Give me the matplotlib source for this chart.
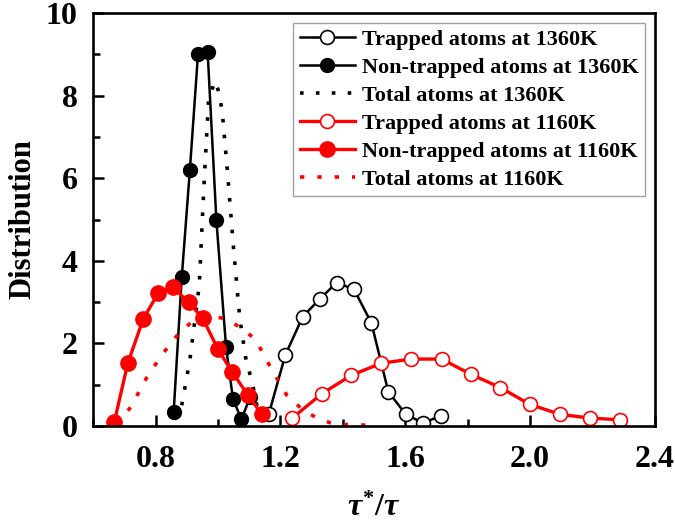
import matplotlib
matplotlib.use("Agg")
import matplotlib.pyplot as plt
from matplotlib.ticker import MultipleLocator

plt.rcParams['font.family'] = ['Liberation Serif', 'DejaVu Serif']
plt.rcParams['font.weight'] = 'bold'
plt.rcParams['mathtext.fontset'] = 'custom'
plt.rcParams['mathtext.it'] = 'Liberation Serif:italic:bold'
plt.rcParams['mathtext.rm'] = 'Liberation Serif:bold'

# Trapped atoms at 1360K
x_trap_1360 = [1.163, 1.216, 1.272, 1.326, 1.380, 1.436, 1.492, 1.546, 1.602, 1.658, 1.715]
y_trap_1360 = [0.29, 1.72, 2.65, 3.07, 3.47, 3.31, 2.49, 0.83, 0.28, 0.07, 0.25]

# Non-trapped atoms at 1360K
x_non_1360 = [0.858, 0.884, 0.910, 0.936, 0.967, 0.995, 1.026, 1.048, 1.075, 1.104]
y_non_1360 = [0.33, 3.60, 6.20, 9.00, 9.05, 4.98, 1.91, 0.66, 0.16, 0.71]

# Total atoms at 1360K
x_tot_1360 = [0.884, 0.910, 0.940, 0.955, 0.970, 0.990, 1.005, 1.015, 1.030, 1.050, 1.070, 1.090, 1.110, 1.130]
y_tot_1360 = [0.50, 1.60, 3.40, 5.80, 7.90, 8.35, 8.05, 7.50, 6.20, 4.30, 2.60, 1.60, 1.05, 0.30]

# Trapped atoms at 1160K
x_trap_1160 = [1.238, 1.333, 1.428, 1.524, 1.620, 1.717, 1.811, 1.905, 2.000, 2.097, 2.193, 2.288]
y_trap_1160 = [0.19, 0.78, 1.23, 1.52, 1.62, 1.62, 1.25, 0.93, 0.52, 0.28, 0.19, 0.15]

# Non-trapped atoms at 1160K
x_non_1160 = [0.668, 0.711, 0.761, 0.808, 0.856, 0.906, 0.951, 1.000, 1.045, 1.096, 1.141]
y_non_1160 = [0.10, 1.52, 2.60, 3.21, 3.36, 2.99, 2.61, 1.86, 1.31, 0.75, 0.28]

# Total atoms at 1160K
x_tot_1160 = [0.675, 0.720, 0.770, 0.820, 0.870, 0.920, 0.970, 1.020, 1.070, 1.120, 1.170, 1.220, 1.270, 1.320, 1.370, 1.420, 1.480]
y_tot_1160 = [0.05, 0.45, 1.15, 1.72, 2.20, 2.55, 2.68, 2.60, 2.40, 2.10, 1.40, 0.75, 0.40, 0.18, 0.05, 0.03, 0.02]

labels = ["Trapped atoms at 1360K", "Non-trapped atoms at 1360K", "Total atoms at 1360K",
          "Trapped atoms at 1160K", "Non-trapped atoms at 1160K", "Total atoms at 1160K"]

fig = plt.figure(figsize=(6.75, 5.22), dpi=100)
ax = fig.add_axes([0.138, 0.184, 0.832, 0.791])

red = '#ff0000'
ax.plot(x_trap_1360, y_trap_1360, '-o', color='black', lw=1.8, mfc='white', mec='black',
        mew=1.2, ms=10, label=labels[0])
ax.plot(x_non_1360, y_non_1360, '-o', color='black', lw=1.8, mfc='black', mec='black',
        ms=10, label=labels[1])
ax.plot(x_tot_1360, y_tot_1360, color='black', lw=2.6, ls=(0, (1, 3.4)), label=labels[2])
ax.plot(x_trap_1160, y_trap_1160, '-o', color=red, lw=2.4, mfc='white', mec=red,
        mew=1.2, ms=10, label=labels[3])
ax.plot(x_non_1160, y_non_1160, '-o', color=red, lw=2.4, mfc=red, mec=red,
        ms=11, label=labels[4])
ax.plot(x_tot_1160, y_tot_1160, color=red, lw=2.6, ls=(0, (1.2, 3.6)), label=labels[5])

ax.set_xlim(0.6, 2.4)
ax.set_ylim(0, 10)
ax.xaxis.set_major_locator(MultipleLocator(0.4))
ax.xaxis.set_minor_locator(MultipleLocator(0.2))
ax.yaxis.set_major_locator(MultipleLocator(2))
ax.yaxis.set_minor_locator(MultipleLocator(1))
ax.set_xticks([0.8, 1.2, 1.6, 2.0, 2.4])
ax.set_xticklabels(['0.8', '1.2', '1.6', '2.0', '2.4'])

for s in ax.spines.values():
    s.set_linewidth(1.9)
ax.tick_params(which='major', direction='in', length=8, width=1.8, labelsize=23)
ax.tick_params(which='minor', direction='in', length=5, width=1.8)
ax.tick_params(axis='x', which='both', pad=14)
ax.tick_params(axis='y', which='both', pad=11)

ax.set_ylabel('Distribution', fontsize=22, fontweight='bold', labelpad=6)
ax.set_xlabel(r'$\tau^{*}/\tau$', fontsize=23, labelpad=14)

leg = ax.legend(loc='upper right', bbox_to_anchor=(0.983, 0.976), fontsize=16,
                frameon=True, fancybox=False, edgecolor='#888888',
                handlelength=2.5, handletextpad=0.3, labelspacing=0.33,
                borderpad=0.3, borderaxespad=0.0)
leg.get_frame().set_linewidth(1.0)
for t in leg.get_texts():
    t.set_fontweight('bold')

fig.savefig('out.png', dpi=100)
